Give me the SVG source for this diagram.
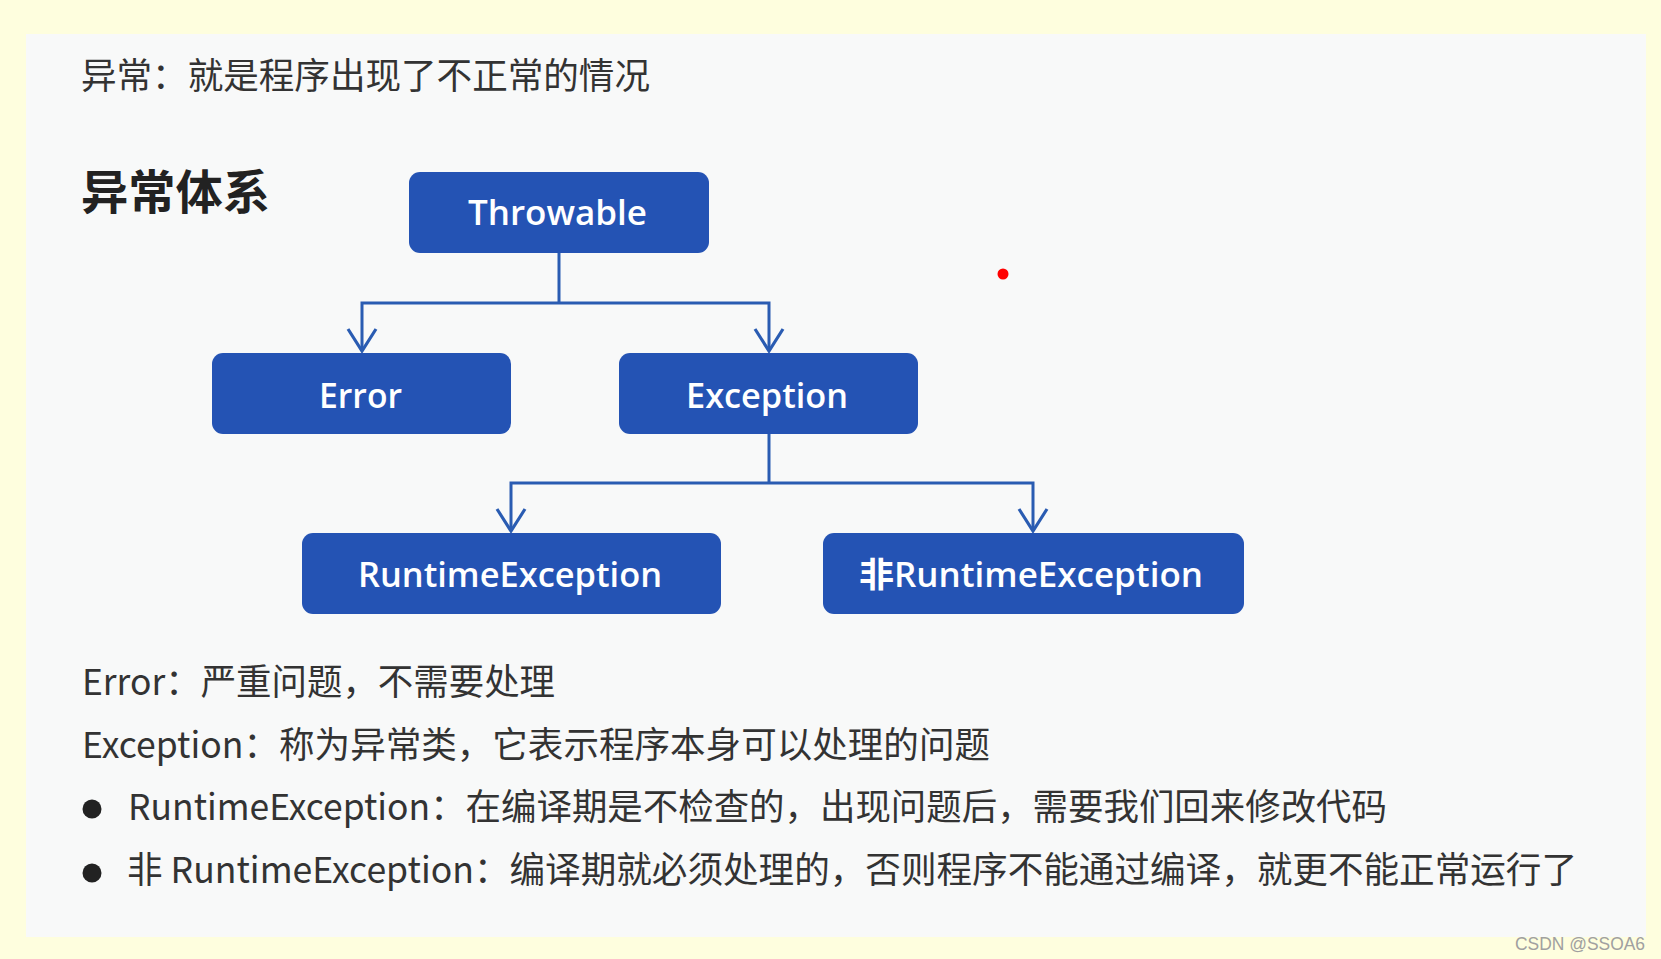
<svg xmlns="http://www.w3.org/2000/svg" width="1661" height="959" viewBox="0 0 1661 959">
  <style>
    .body { font-family: "Noto Sans CJK SC", "Noto Sans", sans-serif; font-size: 36px; fill: #333333; }
    .box { fill: #2453B4; }
    .lbl { font-family: "Open Sans", "Noto Sans CJK SC", sans-serif; font-weight: 600; font-size: 34px; fill: #FFFFFF; text-anchor: middle; }
    .conn { fill: none; stroke: #2A5CB2; stroke-width: 3; stroke-linejoin: miter; }
  </style>
  <defs>
    <marker id="arrow" markerUnits="userSpaceOnUse" viewBox="-26 -18 30 36" refX="0" refY="0" markerWidth="30" markerHeight="36" orient="auto">
      <path d="M-22,-14 L0,0 L-22,14" fill="none" stroke="#2A5CB2" stroke-width="3.2" stroke-linejoin="miter"/>
    </marker>
  </defs>

  <rect x="0" y="0" width="1661" height="959" fill="#FEFEDE"/>
  <rect x="26" y="34" width="1620" height="903" fill="#F8F9F9"/>

  <g id="intro">
    <text class="body" x="81" y="89" font-size="35.5" textLength="569" lengthAdjust="spacingAndGlyphs">异常：就是程序出现了不正常的情况</text>
  </g>
  <g id="heading">
    <text x="81" y="209" font-family="Noto Sans CJK SC, sans-serif" font-weight="700" font-size="47" fill="#222222" textLength="189" lengthAdjust="spacingAndGlyphs">异常体系</text>
  </g>

  <g id="connectors">
    <path class="conn" d="M559,252 V303"/>
    <path class="conn" d="M559,303 H362 V351" marker-end="url(#arrow)"/>
    <path class="conn" d="M559,303 H769 V351" marker-end="url(#arrow)"/>
    <path class="conn" d="M769,433 V483"/>
    <path class="conn" d="M769,483 H511 V531" marker-end="url(#arrow)"/>
    <path class="conn" d="M769,483 H1033 V531" marker-end="url(#arrow)"/>
  </g>

  <g id="throwable">
    <rect class="box" x="409" y="172" width="300" height="81" rx="11"/>
    <text class="lbl" x="557.5" y="224.5" textLength="179" lengthAdjust="spacingAndGlyphs">Throwable</text>
  </g>
  <g id="error">
    <rect class="box" x="212" y="353" width="299" height="81" rx="11"/>
    <text class="lbl" x="360.5" y="408" textLength="83" lengthAdjust="spacingAndGlyphs">Error</text>
  </g>
  <g id="exception">
    <rect class="box" x="619" y="353" width="299" height="81" rx="11"/>
    <text class="lbl" x="767" y="408" textLength="162" lengthAdjust="spacingAndGlyphs">Exception</text>
  </g>
  <g id="runtime">
    <rect class="box" x="302" y="533" width="419" height="81" rx="11"/>
    <text class="lbl" x="510" y="587" textLength="304" lengthAdjust="spacingAndGlyphs">RuntimeException</text>
  </g>
  <g id="non-runtime">
    <rect class="box" x="823" y="533" width="421" height="81" rx="11"/>
    <text class="lbl" x="1031" y="587" textLength="344" lengthAdjust="spacingAndGlyphs">非RuntimeException</text>
  </g>

  <circle cx="1003" cy="274" r="5.5" fill="#FF0000"/>

  <g id="notes">
    <text class="body" x="82" y="695" textLength="473" lengthAdjust="spacingAndGlyphs">Error：严重问题，不需要处理</text>
    <text class="body" x="82" y="758" textLength="908" lengthAdjust="spacingAndGlyphs">Exception：称为异常类，它表示程序本身可以处理的问题</text>
    <circle cx="92" cy="809" r="9.5" fill="#222222"/>
    <text class="body" x="128" y="820" textLength="1259" lengthAdjust="spacingAndGlyphs">RuntimeException：在编译期是不检查的，出现问题后，需要我们回来修改代码</text>
    <circle cx="92" cy="873" r="9.5" fill="#222222"/>
    <text class="body" x="127" y="883" textLength="1450" lengthAdjust="spacingAndGlyphs">非 RuntimeException：编译期就必须处理的，否则程序不能通过编译，就更不能正常运行了</text>
  </g>

  <g id="watermark">
    <text x="1515" y="950" font-family="Liberation Sans, Arial, sans-serif" font-size="18" fill="#A0A0A0" textLength="130" lengthAdjust="spacingAndGlyphs">CSDN @SSOA6</text>
  </g>
</svg>
